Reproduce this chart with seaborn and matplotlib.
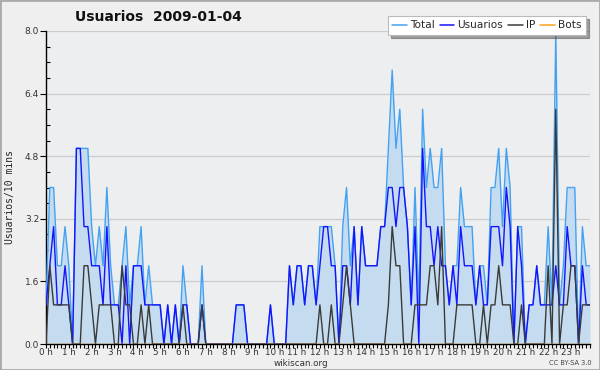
import matplotlib
matplotlib.use("Agg")
import matplotlib.pyplot as plt
from matplotlib.lines import Line2D
from matplotlib.patches import Rectangle
import numpy as np
import pandas as pd
import seaborn as sns

sns.set_theme(style="white")
plt.rcParams['font.family'] = ['DejaVu Sans']

# one value every 10 minutes, 144 slots
total = [1, 4, 4, 2, 2, 3, 2, 0, 5, 5, 5, 5,
         3, 2, 3, 2, 4, 2, 1, 1, 2, 3, 1, 2,
         2, 3, 1, 2, 1, 1, 1, 0, 1, 0, 1, 0,
         2, 1, 0, 0, 0, 2, 0, 0, 0, 0, 0, 0,
         0, 0, 1, 1, 1, 0, 0, 0, 0, 0, 0, 1,
         0, 0, 0, 0, 2, 1, 2, 2, 1, 2, 2, 1,
         3, 3, 3, 3, 2, 0, 3, 4, 2, 3, 1, 3,
         2, 2, 2, 2, 3, 3, 5, 7, 5, 6, 4, 3,
         1, 4, 1, 6, 4, 5, 4, 4, 5, 2, 1, 2,
         2, 4, 3, 3, 3, 1, 2, 2, 1, 4, 4, 5,
         3, 5, 4, 0, 3, 3, 0, 1, 1, 2, 1, 1,
         3, 1, 8, 1, 2, 4, 4, 4, 0, 3, 2, 2]
usuarios = [1, 2, 3, 1, 1, 2, 1, 0, 5, 5, 3, 3,
            2, 2, 2, 1, 3, 1, 1, 1, 0, 2, 0, 2,
            2, 2, 1, 1, 1, 1, 1, 0, 1, 0, 1, 0,
            1, 1, 0, 0, 0, 1, 0, 0, 0, 0, 0, 0,
            0, 0, 1, 1, 1, 0, 0, 0, 0, 0, 0, 1,
            0, 0, 0, 0, 2, 1, 2, 2, 1, 2, 2, 1,
            2, 3, 3, 2, 2, 0, 2, 2, 1, 3, 1, 3,
            2, 2, 2, 2, 3, 3, 4, 4, 3, 4, 4, 3,
            1, 3, 0, 5, 3, 3, 2, 3, 2, 2, 1, 2,
            1, 3, 2, 2, 2, 1, 2, 1, 1, 3, 3, 3,
            2, 4, 3, 0, 3, 2, 0, 1, 1, 2, 1, 1,
            1, 1, 2, 1, 1, 3, 2, 2, 0, 2, 1, 1]
ip = [0, 2, 1, 1, 1, 1, 1, 0, 0, 0, 2, 2,
      1, 0, 1, 1, 1, 1, 0, 0, 2, 1, 1, 0,
      0, 1, 0, 1, 0, 0, 0, 0, 0, 0, 0, 0,
      1, 0, 0, 0, 0, 1, 0, 0, 0, 0, 0, 0,
      0, 0, 0, 0, 0, 0, 0, 0, 0, 0, 0, 0,
      0, 0, 0, 0, 0, 0, 0, 0, 0, 0, 0, 0,
      1, 0, 0, 1, 0, 0, 1, 2, 1, 0, 0, 0,
      0, 0, 0, 0, 0, 0, 1, 3, 2, 2, 0, 0,
      0, 1, 1, 1, 1, 2, 2, 1, 3, 0, 0, 0,
      1, 1, 1, 1, 1, 0, 0, 1, 0, 1, 1, 2,
      1, 1, 1, 0, 0, 1, 0, 0, 0, 0, 0, 0,
      2, 0, 6, 0, 1, 1, 2, 2, 0, 1, 1, 1]
bots = [0] * 144
hour_labels = [f"{h} h" for h in range(24)]
y_ticks = [0.0, 1.6, 3.2, 4.8, 6.4, 8.0]

series = ["Total", "Usuarios", "IP", "Bots"]
colors = {"Total": "#45a2f0", "Usuarios": "#1414ff", "IP": "#3a3a3a", "Bots": "#ffa31a"}

slots = np.arange(len(total))
df = pd.DataFrame({"slot": slots, "Total": total, "Usuarios": usuarios,
                   "IP": ip, "Bots": bots})
long_df = df.melt(id_vars="slot", var_name="serie", value_name="n")

fig = plt.figure(figsize=(6, 3.7), dpi=100)
fig.patch.set_facecolor("#efefef")
ax = fig.add_axes([46 / 600, 26 / 370, 544 / 600, 313 / 370])
ax.set_facecolor("#eceef0")

ax.fill_between(df["slot"], df["Total"], color="#c5dcf0", lw=0, zorder=1)
sns.lineplot(data=long_df, x="slot", y="n", hue="serie", hue_order=series,
             palette=colors, linewidth=1.0, legend=False, ax=ax, zorder=3)

ax.set_xlim(0, len(total) - 1)
ax.set_ylim(0, 8)
ax.set_yticks(y_ticks)
ax.set_yticklabels([f"{v:.1f}" for v in y_ticks], fontsize=6.5, color="#333333")
ax.set_yticks(np.arange(0, 8.01, 0.4), minor=True)
ax.set_xticks(np.arange(0, 144, 6))
ax.set_xticklabels(hour_labels, fontsize=6.3, color="#333333")
ax.set_xticks(slots, minor=True)
ax.tick_params(axis="y", which="major", direction="out", length=4, width=0.8, pad=1)
ax.tick_params(axis="y", which="minor", direction="in", length=3, width=0.8)
ax.tick_params(axis="x", which="both", direction="out", length=3, width=0.8, pad=0)
ax.tick_params(left=True, bottom=True, which="both", colors="black", labelcolor="#333333")
ax.grid(axis="y", which="major", color="#cccccc", lw=0.9, zorder=0)
ax.set_axisbelow(True)
ax.set_xlabel("")
ax.set_ylabel("")
for side in ["top", "right"]:
    ax.spines[side].set_visible(False)
for side in ["left", "bottom"]:
    ax.spines[side].set_color("black")
    ax.spines[side].set_linewidth(1.0)

fig.text(75 / 600, 1 - 17 / 370, "Usuarios  2009-01-04", fontsize=10,
         fontweight="bold", va="center", ha="left", color="#111111")
fig.text(10 / 600, 1 - 197 / 370, "Usuarios/10 mins", rotation=90, fontsize=7,
         family="DejaVu Sans Mono", va="center", ha="center", color="#222222")
fig.text(301 / 600, 1 - 363 / 370, "wikiscan.org", fontsize=6.3,
         va="center", ha="center", color="#333333")
fig.text(592 / 600, 1 - 363 / 370, "CC BY-SA 3.0", fontsize=4.8,
         va="center", ha="right", color="#444444")

handles = [Line2D([0], [0], color=colors[s], lw=1.1) for s in series]
leg = fig.legend(handles, series, ncol=4, loc="upper right",
                 bbox_to_anchor=(591 / 600, 1 - 11 / 370), fontsize=7.6,
                 handlelength=1.4, handletextpad=0.3, columnspacing=0.45,
                 borderpad=0.4, frameon=True, fancybox=False, shadow=True,
                 framealpha=1)
leg.get_frame().set_edgecolor("#bbbbbb")
leg.get_frame().set_facecolor("white")
leg.get_frame().set_linewidth(0.8)

fig.patches.append(Rectangle((0, 0), 1, 1, transform=fig.transFigure,
                             fill=False, edgecolor="#aaaaaa", lw=2))

fig.savefig("out.png", dpi=100, facecolor=fig.get_facecolor())
